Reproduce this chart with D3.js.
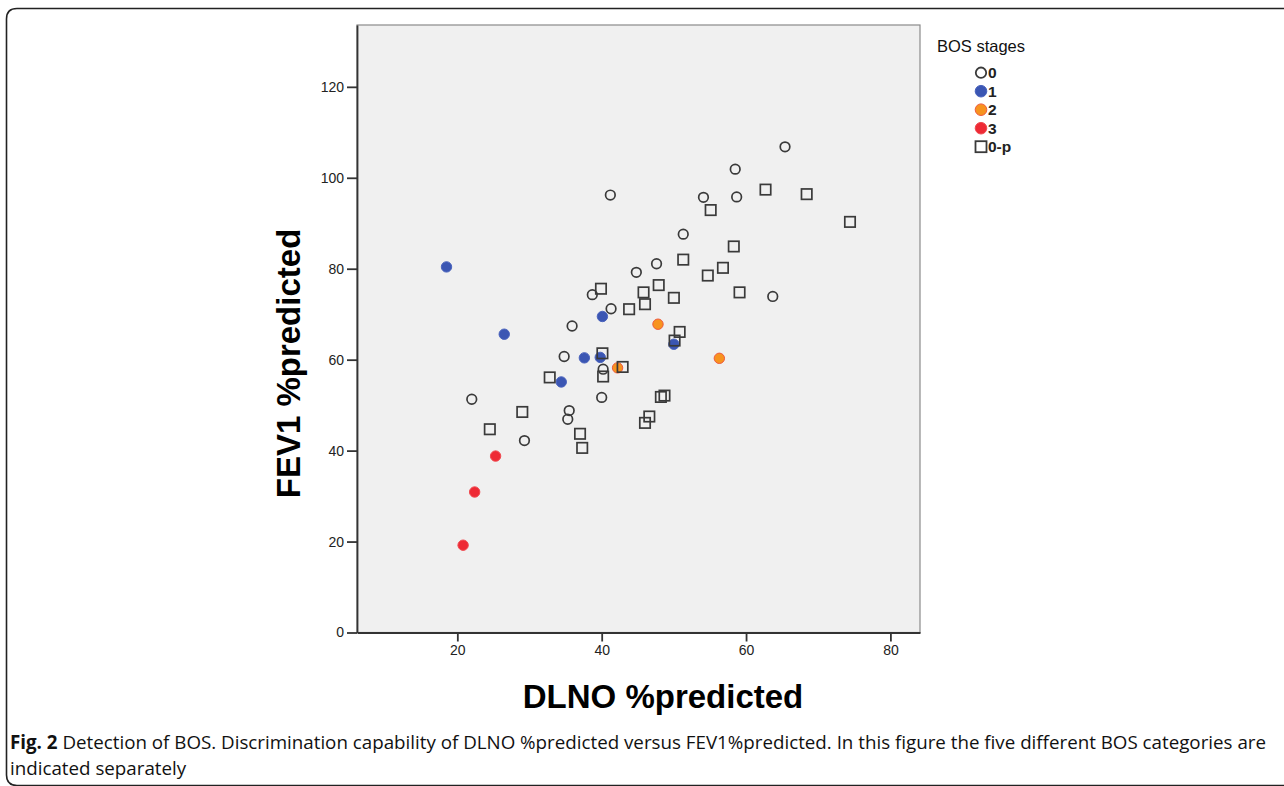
<!DOCTYPE html>
<html>
<head>
<meta charset="utf-8">
<script src="https://cdn.jsdelivr.net/npm/d3@7"></script>
<style>
  html, body { margin: 0; padding: 0; background: #fff; }
  svg { display: block; }
</style>
</head>
<body>
<svg id="chart" width="1284" height="786"></svg>
<script>
// ---- data (DLNO %predicted, FEV1 %predicted) ----
const stage0 = [
  [22.0, 51.3], [29.3, 42.2], [35.5, 48.8], [35.3, 46.9], [34.8, 60.7], [35.9, 67.4],
  [38.7, 74.3], [41.3, 71.2], [41.2, 96.2], [44.8, 79.2], [47.6, 81.1], [51.3, 87.6],
  [54.1, 95.7], [58.5, 101.9], [58.7, 95.8], [65.4, 106.8], [63.7, 73.9], [40.0, 51.7],
  [40.2, 57.9]
];
const stage1 = [
  [18.5, 80.4], [26.5, 65.6], [40.1, 69.5], [37.6, 60.4], [39.8, 60.5], [34.4, 55.1],
  [50.0, 63.4]
];
const stage2 = [
  [42.2, 58.2], [47.8, 67.8], [56.3, 60.3]
];
const stage3 = [
  [25.3, 38.8], [22.4, 30.9], [20.8, 19.2]
];
const stage0p = [
  [24.5, 44.7], [29.0, 48.5], [32.8, 56.1], [37.0, 43.7], [37.3, 40.6], [39.9, 75.6],
  [40.1, 61.4], [40.2, 56.3], [42.9, 58.4], [43.8, 71.1], [45.8, 74.8], [46.0, 72.2],
  [47.9, 76.4], [50.0, 73.6], [50.8, 66.1], [50.1, 64.2], [48.2, 51.8], [48.7, 52.1],
  [46.6, 47.5], [46.0, 46.1], [51.3, 82.0], [54.7, 78.5], [55.1, 92.9], [56.8, 80.2],
  [58.3, 84.9], [59.1, 74.8], [62.7, 97.4], [68.4, 96.4], [74.4, 90.3]
];
const xTicks = [20, 40, 60, 80];
const yTicks = [0, 20, 40, 60, 80, 100, 120];
const legendTitle = "BOS stages";
const legendLabels = ["0", "1", "2", "3", "0-p"];
const xTitle = "DLNO %predicted";
const yTitle = "FEV1 %predicted";
const captionBold = "Fig. 2";
const captionLine1 = " Detection of BOS. Discrimination capability of DLNO %predicted versus FEV1%predicted. In this figure the five different BOS categories are";
const captionLine2 = "indicated separately";

// ---- layout ----
const svg = d3.select("#chart");
const plot = { left: 357, right: 920, top: 25, bottom: 632.5 };
const x = d3.scaleLinear().domain([6.1, 84.1]).range([plot.left, plot.right]);
const y = d3.scaleLinear().domain([0, 133.6]).range([plot.bottom, plot.top]);

const colBlue = "#3b56b3", colOrange = "#f7931f", colOrangeStroke = "#ef5a3c", colRed = "#ee2a35";
const colOutline = "#3a3a3a";
const arial = "Arial, 'Liberation Sans', sans-serif";

// figure frame
svg.append("path")
  .attr("d", "M1290,8.5 L17,8.5 Q6.5,8.5 6.5,19 L6.5,775 Q6.5,785.5 17,785.5 L1290,785.5")
  .attr("fill", "none").attr("stroke", "#222").attr("stroke-width", 1.6);

// plot background
svg.append("rect")
  .attr("x", plot.left).attr("y", plot.top)
  .attr("width", plot.right - plot.left).attr("height", plot.bottom - plot.top)
  .attr("fill", "#f0f0f0").attr("stroke", "#8a8a8a").attr("stroke-width", 1.2);

// axes
const xAxis = svg.append("g").attr("transform", `translate(0,${plot.bottom})`)
  .call(d3.axisBottom(x).tickValues(xTicks).tickSizeInner(9).tickSizeOuter(0).tickPadding(4));
const yAxis = svg.append("g").attr("transform", `translate(${plot.left},0)`)
  .call(d3.axisLeft(y).tickValues(yTicks).tickSizeInner(10).tickSizeOuter(0).tickPadding(3));
[xAxis, yAxis].forEach(g => {
  g.select(".domain").attr("stroke", "#333").attr("stroke-width", 1.8);
  g.selectAll(".tick line").attr("stroke", "#333").attr("stroke-width", 1.8);
  g.selectAll(".tick text").attr("fill", "#222")
    .style("font-family", arial).style("font-size", "14px");
});

// axis titles
svg.append("text").attr("x", 663).attr("y", 708).attr("text-anchor", "middle")
  .style("font-family", arial).style("font-weight", "bold")
  .style("font-size", "33px").attr("fill", "#000").text(xTitle);
svg.append("text").attr("transform", "translate(300,363.5) rotate(-90)").attr("text-anchor", "middle")
  .style("font-family", arial).style("font-weight", "bold")
  .style("font-size", "33px").attr("fill", "#000").text(yTitle);

// ---- marks ----
const marks = svg.append("g");
function dots(data, fill, stroke) {
  marks.selectAll(null).data(data).enter().append("circle")
    .attr("cx", d => x(d[0])).attr("cy", d => y(d[1])).attr("r", 5.2)
    .attr("fill", fill).attr("stroke", stroke).attr("stroke-width", 1);
}
dots(stage3, colRed, "#f04a50");
dots(stage1, colBlue, "#4a63bd");
dots(stage2, colOrange, colOrangeStroke);
marks.selectAll(null).data(stage0).enter().append("circle")
  .attr("cx", d => x(d[0])).attr("cy", d => y(d[1])).attr("r", 4.8)
  .attr("fill", "none").attr("stroke", colOutline).attr("stroke-width", 1.7);
marks.selectAll(null).data(stage0p).enter().append("rect")
  .attr("x", d => x(d[0]) - 5.2).attr("y", d => y(d[1]) - 5.2).attr("width", 10.4).attr("height", 10.4)
  .attr("fill", "none").attr("stroke", colOutline).attr("stroke-width", 1.7);

// ---- legend ----
const lg = svg.append("g").style("font-family", arial);
lg.append("text").attr("x", 937).attr("y", 52).style("font-size", "16.5px").attr("fill", "#111").text(legendTitle);
const ly = d3.scalePoint().domain(legendLabels).range([72.7, 146.7]);
legendLabels.forEach((lab, i) => {
  const cy = ly(lab);
  if (i === 0) {
    lg.append("circle").attr("cx", 981).attr("cy", cy).attr("r", 5.2)
      .attr("fill", "none").attr("stroke", colOutline).attr("stroke-width", 1.8);
  } else if (i === 4) {
    lg.append("rect").attr("x", 975.5).attr("y", cy - 5.5).attr("width", 11).attr("height", 11)
      .attr("fill", "none").attr("stroke", colOutline).attr("stroke-width", 1.8);
  } else {
    const f = [null, colBlue, colOrange, colRed][i];
    const s = [null, "#4a63bd", colOrangeStroke, "#f04a50"][i];
    lg.append("circle").attr("cx", 981).attr("cy", cy).attr("r", 5.8)
      .attr("fill", f).attr("stroke", s).attr("stroke-width", 1);
  }
  lg.append("text").attr("x", 988).attr("y", cy + 5.5).style("font-size", "15.5px")
    .style("font-weight", "bold").attr("fill", "#222").text(lab);
});

// ---- caption ----
const capFont = "'Open Sans', 'Noto Sans', sans-serif";
const c1 = svg.append("text").attr("x", 10).attr("y", 749)
  .style("font-family", capFont).style("font-size", "19px").attr("fill", "#111");
c1.append("tspan").style("font-weight", "bold").text(captionBold);
c1.append("tspan").text(captionLine1);
const natural = c1.node().getComputedTextLength();
const ratio = 1256 / natural;
c1.attr("textLength", 1256).attr("lengthAdjust", "spacingAndGlyphs");
const c2 = svg.append("text").attr("x", 10).attr("y", 775)
  .style("font-family", capFont).style("font-size", "19px").attr("fill", "#111").text(captionLine2);
const n2 = c2.node().getComputedTextLength();
c2.attr("textLength", n2 * ratio).attr("lengthAdjust", "spacingAndGlyphs");
</script>
</body>
</html>
